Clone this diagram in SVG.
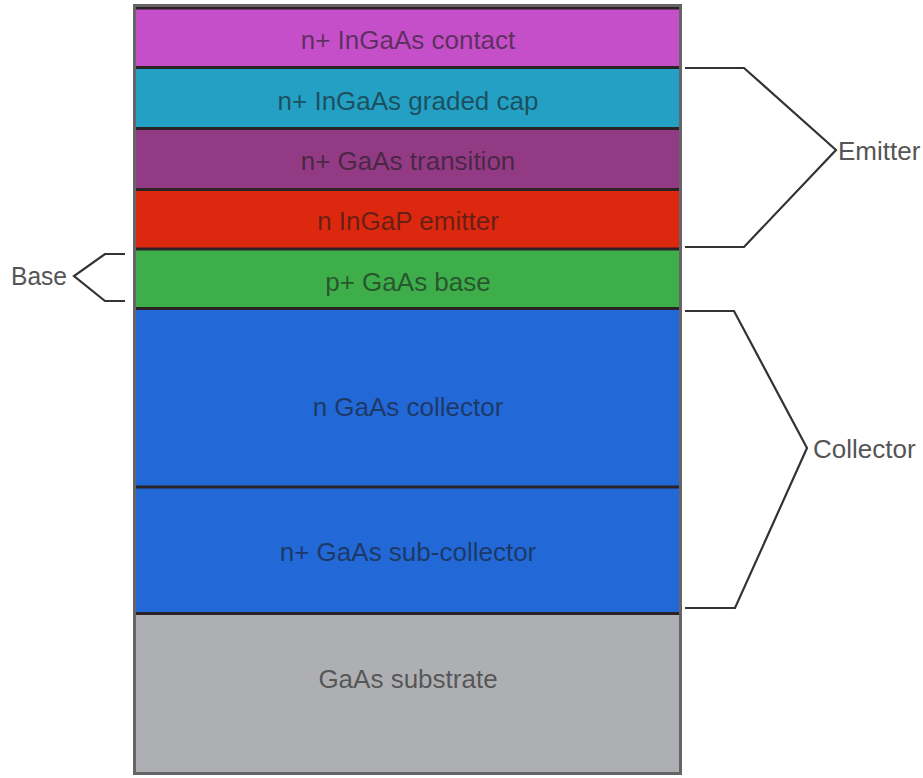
<svg xmlns="http://www.w3.org/2000/svg" width="923" height="778" viewBox="0 0 923 778">
  <style>
    .layer-label { font-family: "Liberation Sans", Arial, sans-serif; font-size: 26px; fill: #1a1a1a; fill-opacity: 0.62; text-anchor: middle; }
    .side-label { font-family: "Liberation Sans", Arial, sans-serif; font-size: 26px; fill: #555555; }
    .sep { stroke: #2b2226; stroke-width: 3; }
    .brace { fill: none; stroke: #333333; stroke-width: 2.2; stroke-linejoin: miter; }
  </style>
  <rect width="923" height="778" fill="#ffffff"/>

  <!-- epitaxial layer stack, top to bottom -->
  <g id="layer-contact">
    <rect x="135" y="8" width="546" height="59" fill="#C44FC8"/>
    <text class="layer-label" x="408" y="49">n+ InGaAs contact</text>
  </g>
  <g id="layer-graded-cap">
    <rect x="135" y="67" width="546" height="61" fill="#23A0C4"/>
    <text class="layer-label" x="408" y="110">n+ InGaAs graded cap</text>
  </g>
  <g id="layer-transition">
    <rect x="135" y="128" width="546" height="61" fill="#923A84"/>
    <text class="layer-label" x="408" y="170">n+ GaAs transition</text>
  </g>
  <g id="layer-emitter">
    <rect x="135" y="189" width="546" height="60" fill="#DC280E"/>
    <text class="layer-label" x="408" y="230">n InGaP emitter</text>
  </g>
  <g id="layer-base">
    <rect x="135" y="249" width="546" height="59" fill="#3DAE4A"/>
    <text class="layer-label" x="408" y="291">p+ GaAs base</text>
  </g>
  <g id="layer-collector">
    <rect x="135" y="308" width="546" height="179" fill="#2268D6"/>
    <text class="layer-label" x="408" y="416">n GaAs collector</text>
  </g>
  <g id="layer-subcollector">
    <rect x="135" y="487" width="546" height="127" fill="#2268D6"/>
    <text class="layer-label" x="408" y="561">n+ GaAs sub-collector</text>
  </g>
  <g id="layer-substrate">
    <rect x="135" y="614" width="546" height="159" fill="#AEAFB2"/>
    <text class="layer-label" x="408" y="688">GaAs substrate</text>
  </g>

  <!-- layer interfaces and outer frame -->
  <g id="interfaces">
    <line class="sep" x1="135" y1="8" x2="681" y2="8"/>
    <line class="sep" x1="135" y1="67.5" x2="681" y2="67.5"/>
    <line class="sep" x1="135" y1="128.5" x2="681" y2="128.5"/>
    <line class="sep" x1="135" y1="189.5" x2="681" y2="189.5"/>
    <line class="sep" x1="135" y1="249" x2="681" y2="249"/>
    <line class="sep" x1="135" y1="308.5" x2="681" y2="308.5"/>
    <line class="sep" x1="135" y1="487" x2="681" y2="487"/>
    <line class="sep" x1="135" y1="613.5" x2="681" y2="613.5"/>
    <rect x="134.5" y="5.5" width="546" height="768" fill="none" stroke="#666466" stroke-width="3"/>
  </g>

  <!-- region braces -->
  <g id="connectors">
    <polyline class="brace" points="685,68 744,68 836,150 744,247 685,247"/>
    <polyline class="brace" points="685,311 734,311 807,448 735,608 685,608"/>
    <polyline class="brace" points="125,254 105,254 74,276 105,301 125,301"/>
  </g>

  <g id="label-emitter">
    <text class="side-label" x="838" y="160">Emitter</text>
  </g>
  <g id="label-collector">
    <text class="side-label" x="813" y="458">Collector</text>
  </g>
  <g id="label-base">
    <text class="side-label" x="11" y="285" font-size="24" textLength="56" lengthAdjust="spacingAndGlyphs">Base</text>
  </g>
</svg>
